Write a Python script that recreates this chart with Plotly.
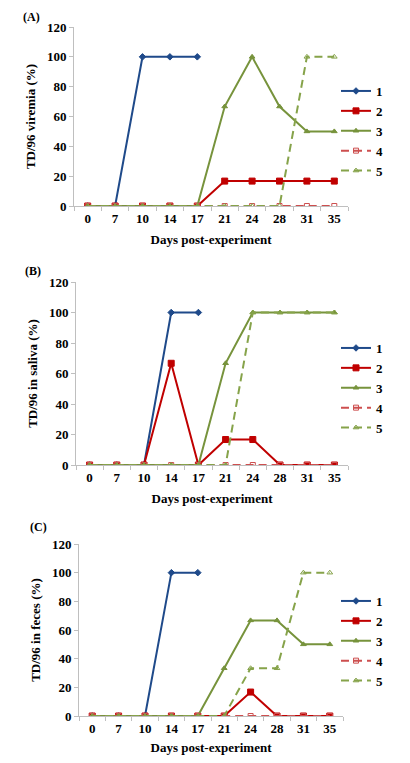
import plotly.graph_objects as go

days = ["0", "7", "10", "14", "17", "21", "24", "28", "31", "35"]
names = ["1", "2", "3", "4", "5"]

# (A) viremia
a1 = [0, 0, 100, 100, 100, None, None, None, None, None]
a2 = [0, 0, 0, 0, 0, 16.7, 16.7, 16.7, 16.7, 16.7]
a3 = [0, 0, 0, 0, 0, 66.7, 100, 66.7, 50, 50]
a4 = [0, 0, 0, 0, 0, 0, 0, 0, 0, 0]
a5 = [0, 0, 0, 0, 0, 0, 0, 0, 100, 100]

# (B) saliva
b1 = [0, 0, 0, 100, 100, None, None, None, None, None]
b2 = [0, 0, 0, 66.7, 0, 16.7, 16.7, 0, 0, 0]
b3 = [0, 0, 0, 0, 0, 66.7, 100, 100, 100, 100]
b4 = [0, 0, 0, 0, 0, 0, 0, 0, 0, 0]
b5 = [0, 0, 0, 0, 0, 0, 100, 100, 100, 100]

# (C) feces
c1 = [0, 0, 0, 100, 100, None, None, None, None, None]
c2 = [0, 0, 0, 0, 0, 0, 16.7, 0, 0, 0]
c3 = [0, 0, 0, 0, 0, 33.3, 66.7, 66.7, 50, 50]
c4 = [0, 0, 0, 0, 0, 0, 0, 0, 0, 0]
c5 = [0, 0, 0, 0, 0, 0, 33.3, 33.3, 100, 100]

panels = [
    ("(A)", "TD/96 viremia (%)", [a1, a2, a3, a4, a5]),
    ("(B)", "TD/96 in saliva (%)", [b1, b2, b3, b4, b5]),
    ("(C)", "TD/96 in feces (%)", [c1, c2, c3, c4, c5]),
]

blue = "#1F4A8A"
red = "#C00000"
green = "#77933C"
styles = [
    dict(color=blue, dash="solid", symbol="diamond", size=5),
    dict(color=red, dash="solid", symbol="square", size=6),
    dict(color=green, dash="solid", symbol="triangle-up", size=5),
    dict(color="#CD4F4F", dash="8px,5px", symbol="square-open", size=5),
    dict(color="#86A34A", dash="8px,5px", symbol="triangle-up-open", size=5),
]

# the page body has an 8px margin, so the figure is a bit smaller than the window
OFF = 8
W, H = 410 - 2 * OFF, 763 - 2 * OFF
font = "Liberation Serif"


def px(x):
    return (x - OFF) / W


def py(y):
    return 1 - (y - OFF) / H


# pixel boxes in the window (left, right, top, bottom) for each panel
boxes = [(74, 348, 27, 206), (76, 348, 282, 465), (79, 343, 544, 716)]
leg_top = [76, 333, 586]
lab_pos = [(31, 17), (33, 271), (38, 527)]

fig = go.Figure()
layout = dict()
for i, (lab, ytitle, series) in enumerate(panels):
    n = "" if i == 0 else str(i + 1)
    legname = "legend" + n
    for nm, ys, st in zip(names, series, styles):
        fig.add_trace(go.Scatter(
            x=days, y=ys, name=nm, mode="lines+markers",
            xaxis="x" + n, yaxis="y" + n, legend=legname,
            line=dict(color=st["color"], width=2, dash=st["dash"]),
            marker=dict(symbol=st["symbol"], size=st["size"], color=st["color"],
                        line=dict(color=st["color"], width=1)),
            connectgaps=False,
        ))
    l, r, t, b = boxes[i]
    layout["xaxis" + n] = dict(
        domain=[px(l), px(r)], anchor="y" + n, type="category",
        range=[-0.5, 9.5], showgrid=False, showline=True, linecolor="#BFBFBF",
        ticks="outside", tickson="boundaries", ticklen=4, tickcolor="#BFBFBF",
        tickfont=dict(family=font, size=13, color="black", weight="bold"),
        title=dict(text="<b>Days post-experiment</b>",
                   font=dict(family=font, size=13, color="black"), standoff=10),
        zeroline=False, automargin=False,
    )
    layout["yaxis" + n] = dict(
        domain=[py(b), py(t)], anchor="x" + n, range=[0, 120],
        tickvals=[0, 20, 40, 60, 80, 100, 120], showgrid=False, showline=True,
        linecolor="#BFBFBF", ticks="outside", ticklen=4, tickcolor="#BFBFBF",
        tickfont=dict(family=font, size=13, color="black", weight="bold"),
        title=dict(text="<b>" + ytitle + "</b>",
                   font=dict(family=font, size=13, color="black"), standoff=8),
        zeroline=False, automargin=False,
    )
    layout[legname] = dict(
        x=px(336), xanchor="left", y=py(leg_top[i]), yanchor="top",
        font=dict(family=font, size=13, color="black", weight="bold"),
        bgcolor="rgba(0,0,0,0)", itemwidth=30, tracegroupgap=0,
    )

annotations = []
for (lab, _, _), (x, y) in zip(panels, lab_pos):
    annotations.append(dict(
        text="<b>" + lab + "</b>", x=px(x), y=py(y), xref="paper", yref="paper",
        xanchor="center", yanchor="middle",
        showarrow=False, font=dict(family=font, size=12, color="black"),
    ))

fig.update_layout(
    width=W, height=H, margin=dict(l=0, r=0, t=0, b=0, autoexpand=False),
    paper_bgcolor="white", plot_bgcolor="white",
    annotations=annotations, showlegend=True, **layout,
)

fig.write_html("out.html")
